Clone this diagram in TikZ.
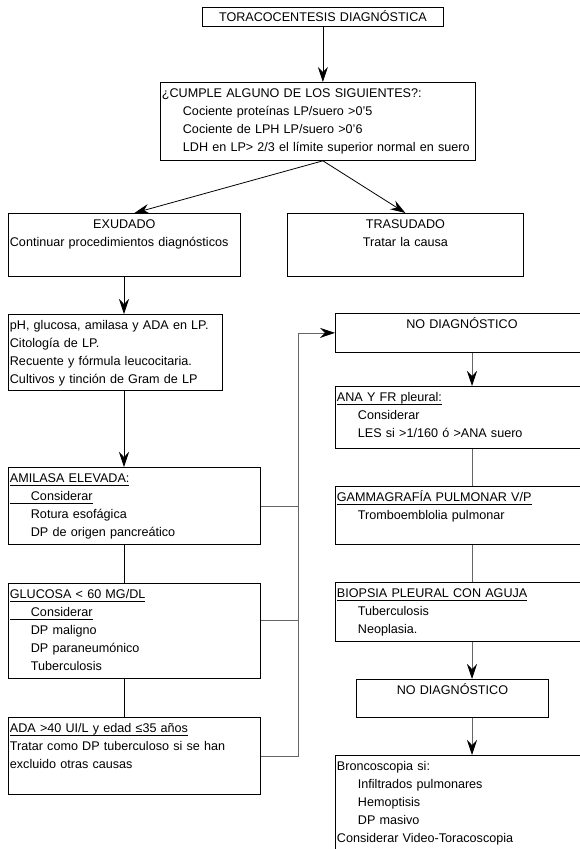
\documentclass[tikz,border=0pt]{standalone}
\usepackage{fontspec}
\setmainfont{Liberation Sans}
\usetikzlibrary{arrows.meta}
\newcommand{\letra}{\fontsize{12.6pt}{18pt}\selectfont}
\newcommand{\sangria}{\hspace*{21pt}}
\newcommand{\subr}[1]{\setbox0\hbox{#1}\mbox{\rlap{\rule[-2.6pt]{\wd0}{0.9pt}}\box0}}

\begin{document}
\begin{tikzpicture}[x=1pt, y=-1pt,
        caja/.style={draw, line width=0.8pt, anchor=north west, align=left, font=\letra, inner xsep=1.5pt, inner ysep=2pt, text height=13.5pt},
        centrada/.style={caja, align=center},
        flecha/.style={-{Stealth[length=15pt, width=10pt, inset=5pt, color=black]}, line width=0.8pt},
        linea/.style={line width=0.8pt},
        gris/.style={draw=black!60}
    ]
    \useasboundingbox (0,0) rectangle (579,849);
    \coordinate (ejeizq) at (124,0);
    \coordinate (ejeder) at (472,0);
    \coordinate (retorno) at (298,0);

    \node[centrada, text width=238pt, text height=12pt, text depth=3pt] (toraco) at (202,7) {TORACOCENTESIS DIAGNÓSTICA};
    \node[caja, text width=312pt, text depth=60.5pt] (cumple) at (160,82) {¿CUMPLE ALGUNO DE LOS SIGUIENTES?:\\\sangria Cociente proteínas LP/suero >0’5\\\sangria Cociente de LPH LP/suero >0’6\\\sangria LDH en LP> 2/3 el límite superior normal en suero};
    \node[caja, text width=229pt, text depth=45.5pt] (exudado) at (8,213) {\makebox[\linewidth]{EXUDADO}\\Continuar procedimientos diagnósticos};
    \node[centrada, text width=233pt, text depth=45.5pt] (trasudado) at (287,213) {TRASUDADO\\Tratar la causa};
    \node[caja, text width=211pt, text depth=58.5pt] (pruebas) at (8,314) {pH, glucosa, amilasa y ADA en LP.\\Citología de LP.\\Recuente y fórmula leucocitaria.\\Cultivos y tinción de Gram de LP};
    \node[caja, text width=249pt, text depth=59.5pt] (amilasa) at (8,467) {\subr{AMILASA ELEVADA:}\\\subr{\sangria Considerar}\\\sangria Rotura esofágica\\\sangria DP de origen pancreático};
    \node[caja, text width=249pt, text depth=77.5pt] (glucosa) at (8,583) {\subr{GLUCOSA < 60 MG/DL}\\\subr{\sangria Considerar}\\\sangria DP maligno\\\sangria DP paraneumónico\\\sangria Tuberculosis};
    \node[caja, text width=249pt, text depth=59.5pt] (ada) at (8,717) {\subr{ADA >40 UI/L y edad ≤35 años}\\Tratar como DP tuberculoso si se han\\excluido otras causas};

    \node[centrada, text width=250pt, text depth=21.5pt] (nodiag) at (335,313) {NO DIAGNÓSTICO};
    \node[caja, text width=272pt, text depth=44.5pt] (ana) at (335,386) {\subr{ANA Y FR pleural:}\\\sangria Considerar\\\sangria LES si >1/160 ó >ANA suero};
    \node[caja, text width=272pt, text depth=40.5pt] (gamma) at (335,486) {\subr{GAMMAGRAFÍA PULMONAR V/P}\\\sangria Tromboemblolia pulmonar};
    \node[caja, text width=272pt, text depth=41.5pt] (biopsia) at (335,582) {\subr{BIOPSIA PLEURAL CON AGUJA}\\\sangria Tuberculosis\\\sangria Neoplasia.};
    \node[centrada, text width=189pt, text depth=20.5pt] (nodiag2) at (356,679) {NO DIAGNÓSTICO};
    \node[caja, text width=272pt, text depth=87.5pt] (bronco) at (335,755) {Broncoscopia si:\\\sangria Infiltrados pulmonares\\\sangria Hemoptisis\\\sangria DP masivo\\Considerar Video-Toracoscopia};

    \draw[flecha] (toraco.south) -- (toraco.south |- cumple.north);
    \coordinate (bif) at (toraco.south |- cumple.south);
    \draw[flecha] (bif) -- ([xshift=10pt]exudado.north);
    \draw[flecha] (bif) -- (trasudado.north);
    \draw[flecha] (exudado.south -| ejeizq) -- (pruebas.north -| ejeizq);
    \draw[flecha] (pruebas.south -| ejeizq) -- (amilasa.north -| ejeizq);
    \draw[linea] (amilasa.south -| ejeizq) -- (glucosa.north -| ejeizq);
    \draw[linea] (glucosa.south -| ejeizq) -- (ada.north -| ejeizq);

    % vuelta hacia no diagnostico
    \draw[flecha, gris] (ada.east) -- (ada.east -| retorno) |- (nodiag.west);
    \draw[linea, gris] (amilasa.east) -- (amilasa.east -| retorno);
    \draw[linea, gris] ([yshift=11pt]glucosa.east) coordinate (g) -- (g -| retorno);

    \draw[flecha, gris] (nodiag.south -| ejeder) -- (ana.north -| ejeder);
    \draw[linea, gris] (ana.south -| ejeder) -- (gamma.north -| ejeder);
    \draw[linea, gris] (gamma.south -| ejeder) -- (biopsia.north -| ejeder);
    \draw[flecha, gris] (biopsia.south -| ejeder) -- (nodiag2.north -| ejeder);
    \draw[flecha, gris] (nodiag2.south -| ejeder) -- (bronco.north -| ejeder);
\end{tikzpicture}
\end{document}
